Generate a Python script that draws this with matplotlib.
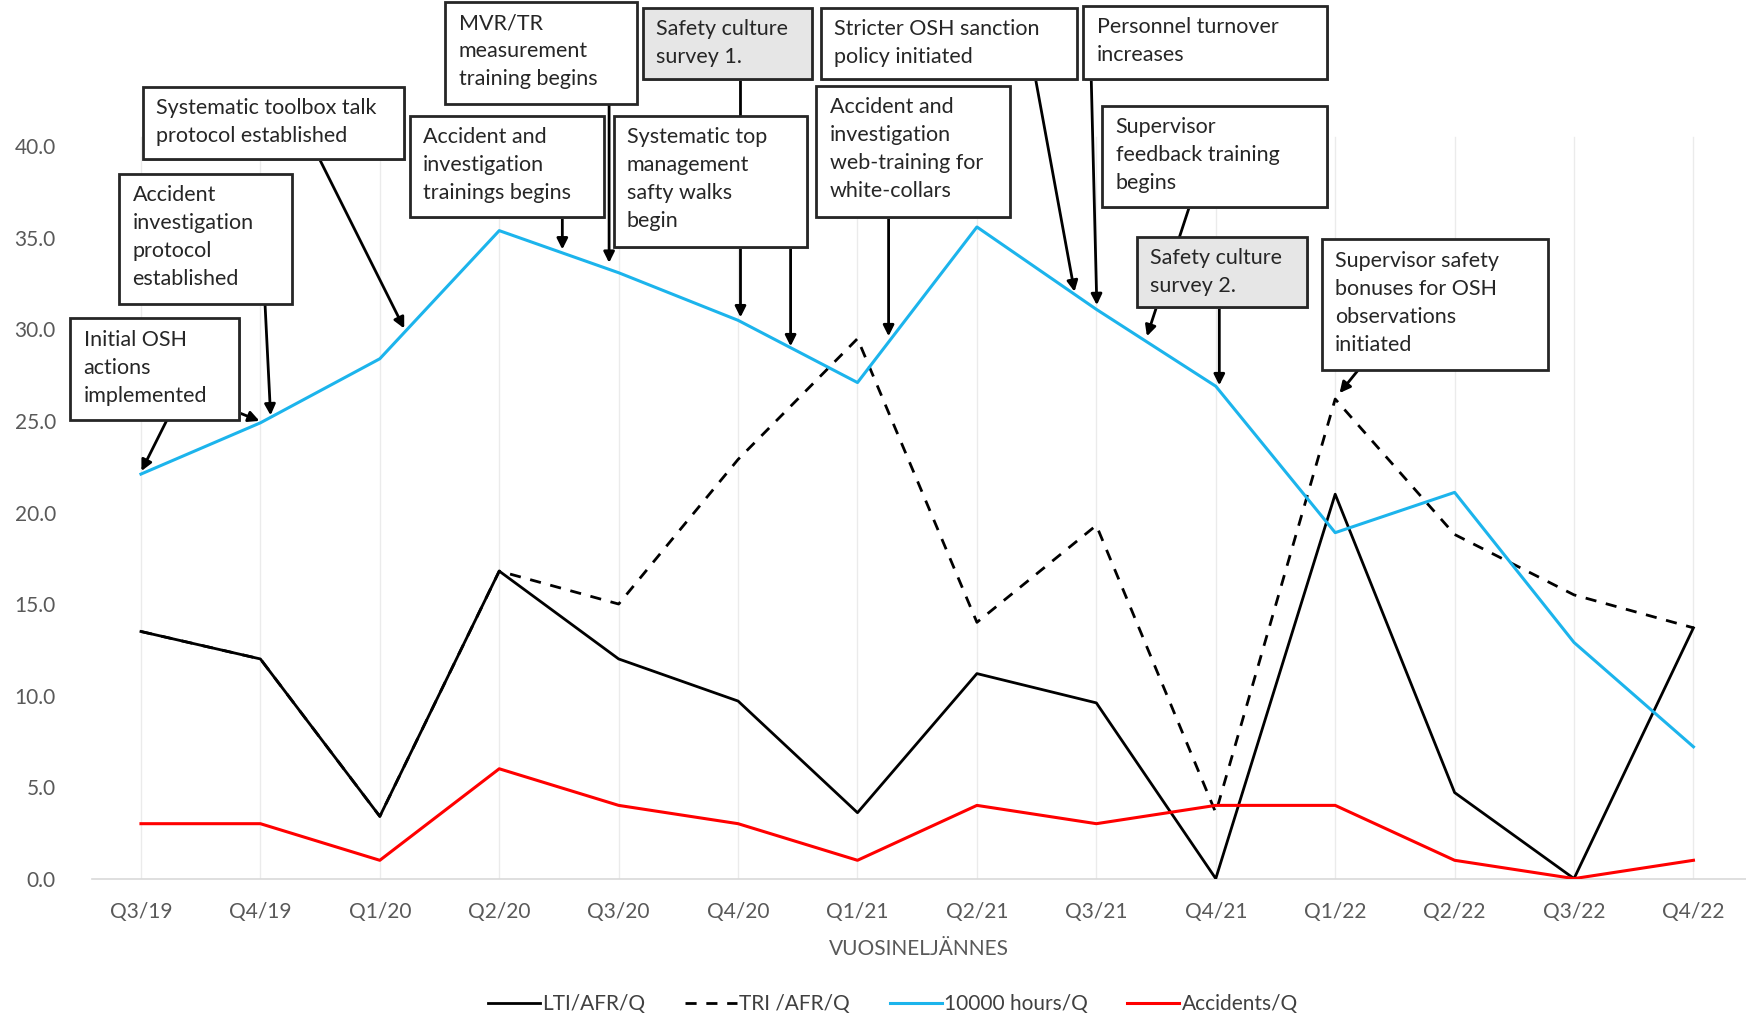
import matplotlib
matplotlib.use("Agg")
import matplotlib.pyplot as plt
from matplotlib.patches import Rectangle, FancyArrowPatch
import numpy as np

quarters = ["Q3/19", "Q4/19", "Q1/20", "Q2/20", "Q3/20", "Q4/20", "Q1/21",
            "Q2/21", "Q3/21", "Q4/21", "Q1/22", "Q2/22", "Q3/22", "Q4/22"]
lti = [13.5, 12.0, 3.4, 16.8, 12.0, 9.7, 3.6, 11.2, 9.6, 0.0, 21.0, 4.7, 0.0, 13.7]
tri = [13.5, 12.0, 3.4, 16.8, 15.0, 22.9, 29.5, 14.0, 19.3, 3.6, 26.2, 18.8, 15.5, 13.7]
hours = [22.1, 24.9, 28.4, 35.4, 33.1, 30.5, 27.1, 35.6, 31.1, 26.9, 18.9, 21.1, 12.9, 7.2]
accidents = [3, 3, 1, 6, 4, 3, 1, 4, 3, 4, 4, 1, 0, 1]
yticks = [0, 5, 10, 15, 20, 25, 30, 35, 40]
series_names = ["LTI/AFR/Q", "TRI /AFR/Q", "10000 hours/Q", "Accidents/Q"]
xlabel = "VUOSINELJÄNNES"

FONT = ["Lato", "DejaVu Sans"]
plt.rcParams["font.family"] = FONT

W, H = 1746, 1017
fig = plt.figure(figsize=(W / 100, H / 100), dpi=100)
ax = fig.add_axes([92 / W, 138.4 / H, 1 - 92 / W, 878.6 / H])

x = np.arange(len(quarters))
ax.plot(x, tri, color="black", lw=2.0, ls=(0, (4, 3.5)), label=series_names[1], zorder=2)
ax.plot(x, lti, color="black", lw=2.0, label=series_names[0], zorder=3)
ax.plot(x, hours, color="#1CB4EC", lw=2.2, label=series_names[2], zorder=4)
ax.plot(x, accidents, color="#FF0000", lw=2.2, label=series_names[3], zorder=4)

ax.set_xlim(-0.41, 13.44)
ax.set_ylim(0, 48)
ax.set_yticks(yticks)
ax.set_yticklabels([f"{v:.1f}" for v in yticks])
ax.set_xticks(x)
ax.set_xticklabels(quarters)
for s in ["top", "right", "left"]:
    ax.spines[s].set_visible(False)
ax.spines["bottom"].set_color("#d9d9d9")
ax.spines["bottom"].set_linewidth(1.2)
ax.tick_params(axis="both", length=0, labelsize=15, colors="#595959")
ax.tick_params(axis="y", pad=26)
ax.tick_params(axis="x", pad=17)
for xi in x:
    ax.plot([xi, xi], [0, 40.5], color="#ebebeb", lw=1.0, zorder=1)
ax.set_xlabel(xlabel, fontsize=15, color="#595959", labelpad=12)

h, l = ax.get_legend_handles_labels()
order = [1, 0, 2, 3]
fig.legend([h[i] for i in order], [l[i] for i in order], loc="center",
           bbox_to_anchor=(893 / W, 1 - 1004 / H), ncol=4, frameon=False,
           fontsize=15, handlelength=2.5, handletextpad=0.1, columnspacing=1.9,
           labelcolor="#404040")

S = 1746 / 1568.0


def fx(xd):
    return xd * S / W


def fy(yd):
    return 1 - yd * S / H


def box(x0, y0, x1, y1, text, gray=False):
    # shadow
    fig.patches.append(Rectangle((fx(x0) + 1.5 / W, fy(y1) - 1.5 / H), fx(x1) - fx(x0), fy(y0) - fy(y1),
                                 transform=fig.transFigure, facecolor="#9a9a9a", edgecolor="none",
                                 zorder=9))
    fig.patches.append(Rectangle((fx(x0), fy(y1)), fx(x1) - fx(x0), fy(y0) - fy(y1),
                                 transform=fig.transFigure, facecolor="#e6e6e6" if gray else "white",
                                 edgecolor="#262626", lw=2.0, zorder=10))
    fig.text(fx(x0 + 12), fy(y0 + 10), text, ha="left", va="top", fontsize=15.5,
             linespacing=1.5, color="#262626", zorder=11)


def arrow(xa, ya, xb, yb):
    fig.patches.append(FancyArrowPatch((fx(xa), fy(ya)), (fx(xb), fy(yb)),
                                       transform=fig.transFigure, arrowstyle="-|>",
                                       mutation_scale=16, color="black", lw=2.0,
                                       shrinkA=0, shrinkB=0, zorder=8))


arrow(150, 377, 127, 423)
arrow(213, 370, 233, 378)
box(63, 286, 215, 377, "Initial OSH\nactions\nimplemented")
arrow(238, 273, 243, 373)
box(107, 156, 262, 273, "Accident\ninvestigation\nprotocol\nestablished")
arrow(287, 143, 363, 295)
box(128, 78, 363, 143, "Systematic toolbox talk\nprotocol established")
arrow(547, 93, 547, 236)
box(400, 2, 572, 93, "MVR/TR\nmeasurement\ntraining begins")
arrow(505, 195, 505, 224)
box(368, 104, 542, 195, "Accident and\ninvestigation\ntrainings begins")
arrow(665, 71, 665, 285)
box(577, 7, 729, 71, "Safety culture\nsurvey 1.", gray=True)
arrow(710, 222, 710, 311)
box(551, 104, 725, 222, "Systematic top\nmanagement\nsafty walks\nbegin")
arrow(930, 71, 965, 262)
box(737, 7, 967, 71, "Stricter OSH sanction\npolicy initiated")
arrow(798, 195, 798, 302)
box(733, 77, 907, 195, "Accident and\ninvestigation\nweb-training for\nwhite-collars")
arrow(980, 71, 985, 274)
box(973, 5, 1192, 71, "Personnel turnover\nincreases")
arrow(1068, 186, 1030, 302)
box(990, 95, 1192, 186, "Supervisor\nfeedback training\nbegins")
arrow(1095, 276, 1095, 346)
box(1021, 213, 1174, 276, "Safety culture\nsurvey 2.", gray=True)
arrow(1220, 332, 1203, 353)
box(1187, 215, 1390, 332, "Supervisor safety\nbonuses for OSH\nobservations\ninitiated")

fig.savefig("out.png", dpi=100)
